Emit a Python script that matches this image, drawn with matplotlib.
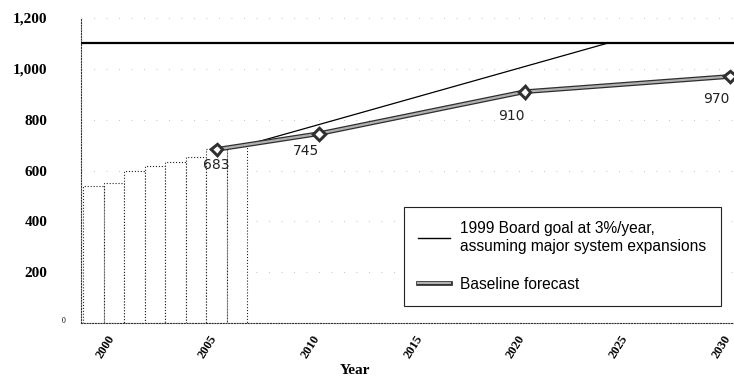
import matplotlib
matplotlib.use("Agg")
import matplotlib.pyplot as plt
import matplotlib.patheffects as pe
from matplotlib.lines import Line2D
from matplotlib.transforms import ScaledTranslation

# --- data ---
hist_years = [1999, 2000, 2001, 2002, 2003, 2004, 2005, 2006]
hist_values = [540, 550, 600, 617, 633, 652, 683, 697]

baseline_years = [2005, 2010, 2020, 2030]
baseline_values = [683, 745, 910, 970]

goal_years = [2006, 2024]
goal_values = [690, 1100]
goal_cap = 1100

y_ticks = [0, 200, 400, 600, 800, 1000, 1200]
y_labels = ["", "200", "400", "600", "800", "1,000", "1,200"]
x_ticks = [2000, 2005, 2010, 2015, 2020, 2025, 2030]

# --- figure ---
fig = plt.figure(figsize=(7.34, 3.80), dpi=100)
ax = fig.add_axes([0.1104, 0.15, 0.8896, 0.8026])
ax.set_xlim(1998.4, 2030.2)
ax.set_ylim(0, 1200)

# faint gridlines
for v in y_ticks[1:]:
    ax.axhline(v, color="#b0b0b0", lw=0.6, ls=(0, (1, 14)), zorder=0)

# historic bars, dotted outlines
ax.bar(hist_years, hist_values, width=1.0, facecolor="white",
       edgecolor="#222222", linestyle=":", linewidth=0.8, zorder=1)

# board goal
ax.axhline(goal_cap, color="black", lw=1.6, zorder=3)
ax.plot(goal_years, goal_values, color="black", lw=0.9, zorder=3)

# baseline forecast
line_fx = [pe.Stroke(linewidth=3.4, foreground="#2e2e2e"), pe.Normal()]
ax.plot(baseline_years, baseline_values, color="#b0b0b0", lw=1.6,
        marker="D", markersize=5, markerfacecolor="white",
        markeredgecolor="#333333", markeredgewidth=0.9,
        path_effects=line_fx, zorder=4)

# value labels
label_offsets = [(0, -16), (-13, -17), (-13, -24), (-14, -23)]
for yr, val, off in zip(baseline_years, baseline_values, label_offsets):
    ax.annotate(f"{val}", (yr, val), xytext=off, textcoords="offset pixels",
                ha="center", va="center", fontsize=10, color="#222222",
                family="DejaVu Sans", zorder=5)

# axes styling
for side in ["top", "right"]:
    ax.spines[side].set_visible(False)
for side in ["left", "bottom"]:
    ax.spines[side].set_linestyle((0, (1, 1.5)))
    ax.spines[side].set_linewidth(0.8)
    ax.spines[side].set_color("#333333")

ax.set_yticks(y_ticks)
ax.set_yticklabels(y_labels, family="Liberation Serif", fontweight="bold",
                   fontsize=11)
ax.tick_params(axis="y", length=0, pad=24)
ax.annotate("0", (0, 0), xycoords="axes fraction", xytext=(-17, 2),
            textcoords="offset pixels", ha="center", va="center",
            fontsize=5.5, family="Liberation Serif")

ax.set_xticks(x_ticks)
ax.set_xticklabels([str(t) for t in x_ticks], family="Liberation Serif",
                   fontweight="bold", fontsize=9, rotation=58, ha="right",
                   rotation_mode="anchor")
ax.tick_params(axis="x", length=0, pad=7)
shift = ScaledTranslation(-7 / 100, 0, fig.dpi_scale_trans)
for lab in ax.get_xticklabels():
    lab.set_transform(lab.get_transform() + shift)

ax.set_xlabel("Year", family="Liberation Serif", fontweight="bold",
              fontsize=11)
ax.xaxis.set_label_coords(0.42, -0.135)

# legend
handles = [
    Line2D([], [], color="black", lw=1.0),
    Line2D([], [], color="#b0b0b0", lw=1.5, path_effects=line_fx),
]
labels = ["1999 Board goal at 3%/year,\nassuming major system expansions",
          "Baseline forecast"]
leg = ax.legend(handles, labels, loc="upper left",
                bbox_to_anchor=(0.494, 0.38), frameon=True, fancybox=False,
                edgecolor="#222222", framealpha=1.0, borderpad=0.9,
                handlelength=2.1, handletextpad=0.65, labelspacing=1.5,
                borderaxespad=0,
                prop={"family": "Liberation Sans", "size": 11.2})
leg.get_frame().set_linewidth(0.8)

fig.savefig("out.png", dpi=100)
